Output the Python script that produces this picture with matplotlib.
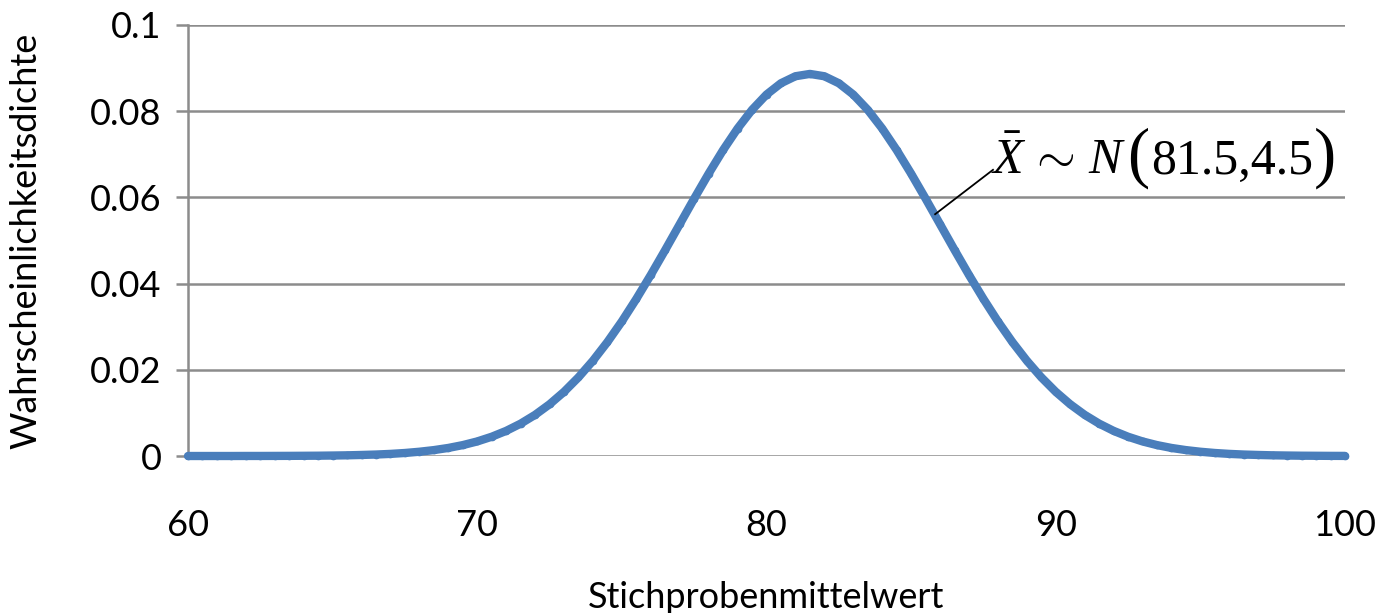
import matplotlib
matplotlib.use("Agg")
import matplotlib.pyplot as plt
from matplotlib.offsetbox import TextArea, HPacker, AnnotationBbox

plt.rcParams['font.family'] = ['Lato', 'DejaVu Sans']
plt.rcParams['mathtext.fontset'] = 'custom'
plt.rcParams['mathtext.rm'] = 'Liberation Serif'
plt.rcParams['mathtext.it'] = 'Liberation Serif:italic'

# Stichprobenmittelwert, step 0.5
x_vals = [60 + 0.5 * i for i in range(81)]
# density
density = [
    0.00000, 0.00000, 0.00000, 0.00000, 0.00001, 0.00001, 0.00002, 0.00003,
    0.00005, 0.00007, 0.00011, 0.00016, 0.00024, 0.00034, 0.00049, 0.00070,
    0.00099, 0.00137, 0.00187, 0.00253, 0.00338, 0.00447, 0.00583, 0.00751,
    0.00955, 0.01200, 0.01489, 0.01826, 0.02211, 0.02644, 0.03123, 0.03645,
    0.04201, 0.04782, 0.05377, 0.05972, 0.06551, 0.07099, 0.07598, 0.08032,
    0.08386, 0.08649, 0.08811, 0.08865, 0.08811, 0.08649, 0.08386, 0.08032,
    0.07598, 0.07099, 0.06551, 0.05972, 0.05377, 0.04782, 0.04201, 0.03645,
    0.03123, 0.02644, 0.02211, 0.01826, 0.01489, 0.01200, 0.00955, 0.00751,
    0.00583, 0.00447, 0.00338, 0.00253, 0.00187, 0.00137, 0.00099, 0.00070,
    0.00049, 0.00034, 0.00024, 0.00016, 0.00011, 0.00007, 0.00005, 0.00003,
    0.00002,
]
x_ticks = [60, 70, 80, 90, 100]
y_ticks = [0, 0.02, 0.04, 0.06, 0.08, 0.1]
y_labels = ['0', '0.02', '0.04', '0.06', '0.08', '0.1']

fig = plt.figure(figsize=(13.8, 6.13), dpi=100)
ax = fig.add_axes([188 / 1380, 1 - 456 / 613, (1345 - 188) / 1380, (456 - 25) / 613])

ax.plot(x_vals, density, color='#4a7ebb', lw=6, solid_capstyle='round',
        marker='o', markersize=4.5, zorder=3, clip_on=False)

ax.set_xlim(60, 100)
ax.set_ylim(0, 0.1)
ax.set_xticks(x_ticks)
ax.set_yticks(y_ticks)
ax.set_yticklabels(y_labels)
ax.grid(axis='y', color='#8c8c8c', lw=1.8)
ax.set_axisbelow(True)

for s in ['top', 'right', 'bottom']:
    ax.spines[s].set_visible(False)
ax.spines['left'].set_color('#8c8c8c')
ax.spines['left'].set_linewidth(1.8)

ax.tick_params(axis='y', length=9, width=1.8, color='#8c8c8c', labelsize=26, pad=10)
ax.tick_params(axis='x', length=0, labelsize=26, pad=38)

ax.set_xlabel('Stichprobenmittelwert', fontsize=26, labelpad=28)
ax.set_ylabel('Wahrscheinlichkeitsdichte', fontsize=26, labelpad=34)

# leader line + formula label
ax.plot([85.83, 87.83], [0.0561, 0.0664], color='black', lw=1.3, zorder=4)
serif = dict(family='Liberation Serif')
parts = [
    TextArea(r'$\bar{X}\,\sim\,N$', textprops=dict(fontsize=36, **serif)),
    TextArea('(', textprops=dict(fontsize=48, **serif)),
    TextArea('81.5,4.5', textprops=dict(fontsize=36, **serif)),
    TextArea(')', textprops=dict(fontsize=48, **serif)),
]
label = HPacker(children=parts, align='baseline', pad=0, sep=1)
ab = AnnotationBbox(label, (87.75, 0.0620), xycoords='data', box_alignment=(0, 0),
                    frameon=False, pad=0, zorder=4)
ax.add_artist(ab)

fig.savefig('out.png', dpi=100)
